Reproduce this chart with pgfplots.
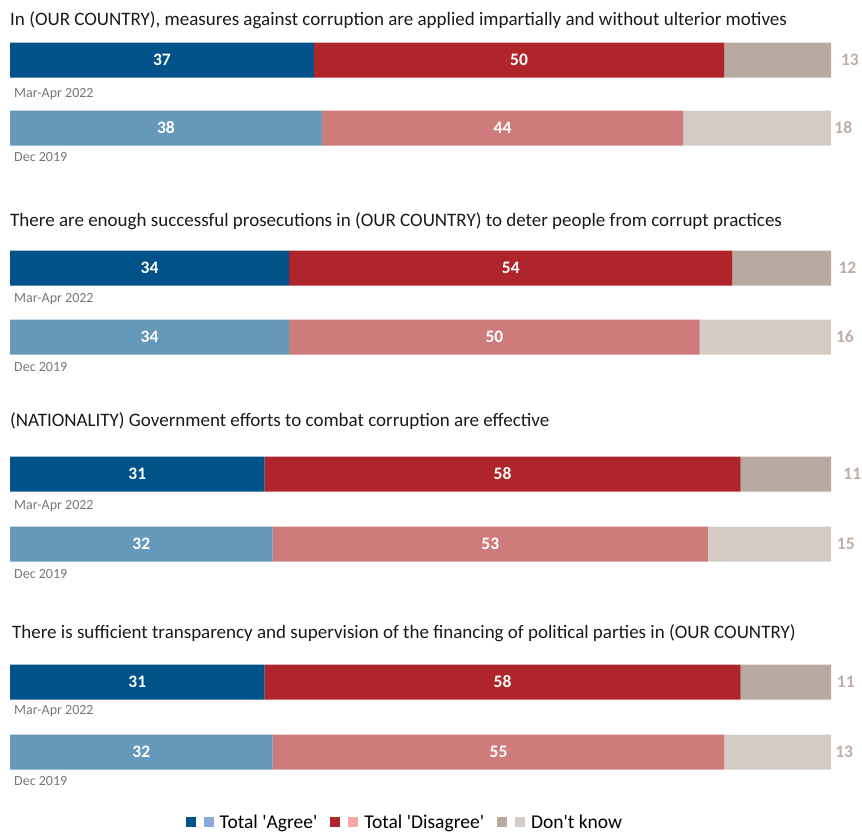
\documentclass[border=0pt]{standalone}
\usepackage{fontspec}
\setmainfont{Carlito}
\usepackage{pgfplots}
\pgfplotsset{compat=1.18}
\definecolor{cA}{RGB}{0,82,136}
\definecolor{cAl}{RGB}{102,152,186}
\definecolor{cD}{RGB}{176,36,43}
\definecolor{cDl}{RGB}{206,123,124}
\definecolor{cN}{RGB}{184,169,161}
\definecolor{cNl}{RGB}{214,204,199}
\definecolor{cAleg}{RGB}{140,170,215}
\definecolor{cDleg}{RGB}{245,168,168}
\definecolor{numtan}{RGB}{190,174,166}
\definecolor{dategray}{RGB}{118,118,118}
\definecolor{titleblack}{RGB}{26,26,26}
\tikzset{
  ttl/.style={anchor=west, inner sep=0pt, text=titleblack, font=\fontsize{19}{22}\selectfont},
  dte/.style={anchor=west, inner sep=0pt, text=dategray, font=\fontsize{14}{16}\selectfont},
  val/.style={anchor=center, inner sep=0pt, text=white, font=\fontsize{17.5}{20}\selectfont\bfseries},
  dkv/.style={anchor=center, inner sep=0pt, text=numtan, font=\fontsize{17.5}{20}\selectfont\bfseries},
}
\begin{document}
\begin{tikzpicture}
\begin{axis}[
  scale only axis, width=862pt, height=832pt,
  xmin=-1.218, xmax=103.776, ymin=0, ymax=832, y dir=reverse,
  axis lines=none, ticks=none, clip=false,
  xbar stacked, bar width=35,
  legend style={at={(axis cs:48.1,822)}, anchor=center, draw=none, fill=none,
    legend columns=3, font=\fontsize{19.5}{21}\selectfont,
    /tikz/every odd column/.append style={column sep=4pt},
    /tikz/every even column/.append style={column sep=11pt}},
  after end axis/.append code={
    \node[val] at (axis cs:18.5,60) {37}; \node[val] at (axis cs:62,60) {50};
    \node[val] at (axis cs:19,128) {38}; \node[val] at (axis cs:60,128) {44};
    \node[val] at (axis cs:17,268) {34}; \node[val] at (axis cs:61,268) {54};
    \node[val] at (axis cs:17,337) {34}; \node[val] at (axis cs:59,337) {50};
    \node[val] at (axis cs:15.5,474) {31}; \node[val] at (axis cs:60,474) {58};
    \node[val] at (axis cs:16,544) {32}; \node[val] at (axis cs:58.5,544) {53};
    \node[val] at (axis cs:15.5,682) {31}; \node[val] at (axis cs:60,682) {58};
    \node[val] at (axis cs:16,752) {32}; \node[val] at (axis cs:59.5,752) {55};
  },
]
% Mar-Apr 2022 and Dec 2019 (zeros keep the stacks apart)
\addplot[fill=cA, draw=none, legend image code/.code={\fill[cA] (0pt,-5pt) rectangle (10pt,5pt); \fill[cAleg] (18pt,-5pt) rectangle (28pt,5pt);}] coordinates {(37,60) (0,128) (34,268) (0,337) (31,474) (0,544) (31,682) (0,752)};
\addlegendentry{Total \textquotesingle Agree\textquotesingle}
\addplot[fill=cAl, draw=none, forget plot] coordinates {(0,60) (38,128) (0,268) (34,337) (0,474) (32,544) (0,682) (32,752)};
\addplot[fill=cD, draw=none, legend image code/.code={\fill[cD] (0pt,-5pt) rectangle (10pt,5pt); \fill[cDleg] (18pt,-5pt) rectangle (28pt,5pt);}] coordinates {(50,60) (0,128) (54,268) (0,337) (58,474) (0,544) (58,682) (0,752)};
\addlegendentry{Total \textquotesingle Disagree\textquotesingle}
\addplot[fill=cDl, draw=none, forget plot] coordinates {(0,60) (44,128) (0,268) (50,337) (0,474) (53,544) (0,682) (55,752)};
\addplot[fill=cN, draw=none, legend image code/.code={\fill[cN] (0pt,-5pt) rectangle (10pt,5pt); \fill[cNl] (18pt,-5pt) rectangle (28pt,5pt);}] coordinates {(13,60) (0,128) (12,268) (0,337) (11,474) (0,544) (11,682) (0,752)};
\addlegendentry{Don\textquotesingle t know}
\addplot[fill=cNl, draw=none, forget plot] coordinates {(0,60) (18,128) (0,268) (16,337) (0,474) (15,544) (0,682) (13,752)};

\node[ttl] at (axis cs:0,20) {In (OUR COUNTRY), measures against corruption are applied impartially and without ulterior motives};
\node[ttl] at (axis cs:0,221) {There are enough successful prosecutions in (OUR COUNTRY) to deter people from corrupt practices};
\node[ttl] at (axis cs:0,421) {(NATIONALITY) Government efforts to combat corruption are effective};
\node[ttl] at (axis cs:0.24,633) {There is sufficient transparency and supervision of the financing of political parties in (OUR COUNTRY)};

\node[dte] at (axis cs:0.49,94) {Mar-Apr 2022};
\node[dte] at (axis cs:0.49,157) {Dec 2019};
\node[dte] at (axis cs:0.49,299) {Mar-Apr 2022};
\node[dte] at (axis cs:0.49,367) {Dec 2019};
\node[dte] at (axis cs:0.49,506) {Mar-Apr 2022};
\node[dte] at (axis cs:0.49,574) {Dec 2019};
\node[dte] at (axis cs:0.49,711) {Mar-Apr 2022};
\node[dte] at (axis cs:0.49,781) {Dec 2019};

\node[dkv] at (axis cs:102.3,60) {13}; \node[dkv] at (axis cs:101.5,128) {18};
\node[dkv] at (axis cs:102.0,268) {12}; \node[dkv] at (axis cs:101.7,337) {16};
\node[dkv] at (axis cs:102.6,474) {11}; \node[dkv] at (axis cs:101.8,544) {15};
\node[dkv] at (axis cs:101.8,682) {11}; \node[dkv] at (axis cs:101.6,752) {13};
\end{axis}
\path (current axis.south west) rectangle (current axis.north east);
\end{tikzpicture}
\end{document}
